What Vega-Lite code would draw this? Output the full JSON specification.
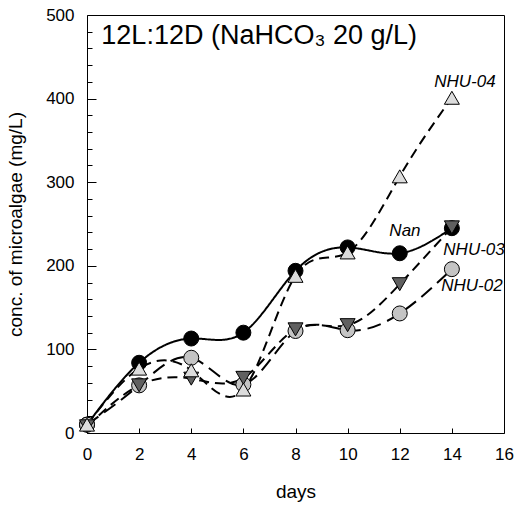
{
  "$schema": "https://vega.github.io/schema/vega-lite/v6.json",
  "width": 417,
  "height": 418,
  "autosize": {"type": "none"},
  "padding": {"left": 87, "top": 15, "right": 14, "bottom": 73},
  "background": "white",
  "config": {
    "view": {"stroke": "black", "strokeWidth": 1},
    "font": "Liberation Sans",
    "axis": {
      "domainColor": "black",
      "tickColor": "black",
      "labelColor": "black",
      "titleColor": "black",
      "labelFont": "Liberation Sans",
      "titleFont": "Liberation Sans",
      "labelFontSize": 17,
      "titleFontSize": 19,
      "titleFontWeight": "normal",
      "grid": false,
      "labelFlush": false,
      "labelOverlap": false
    }
  },
  "datasets": {
    "growth": [
      {"series": "Nan", "day": 0, "conc": 10},
      {"series": "Nan", "day": 2, "conc": 84},
      {"series": "Nan", "day": 4, "conc": 113},
      {"series": "Nan", "day": 6, "conc": 120},
      {"series": "Nan", "day": 8, "conc": 194},
      {"series": "Nan", "day": 10, "conc": 222},
      {"series": "Nan", "day": 12, "conc": 215},
      {"series": "Nan", "day": 14, "conc": 245},
      {"series": "NHU-02", "day": 0, "conc": 10},
      {"series": "NHU-02", "day": 2, "conc": 57},
      {"series": "NHU-02", "day": 4, "conc": 90},
      {"series": "NHU-02", "day": 6, "conc": 58},
      {"series": "NHU-02", "day": 8, "conc": 122},
      {"series": "NHU-02", "day": 10, "conc": 123},
      {"series": "NHU-02", "day": 12, "conc": 143},
      {"series": "NHU-02", "day": 14, "conc": 196},
      {"series": "NHU-03", "day": 0, "conc": 8},
      {"series": "NHU-03", "day": 2, "conc": 57},
      {"series": "NHU-03", "day": 4, "conc": 65},
      {"series": "NHU-03", "day": 6, "conc": 66},
      {"series": "NHU-03", "day": 8, "conc": 124},
      {"series": "NHU-03", "day": 10, "conc": 129},
      {"series": "NHU-03", "day": 12, "conc": 178},
      {"series": "NHU-03", "day": 14, "conc": 246},
      {"series": "NHU-04", "day": 0, "conc": 10},
      {"series": "NHU-04", "day": 2, "conc": 77},
      {"series": "NHU-04", "day": 4, "conc": 75},
      {"series": "NHU-04", "day": 6, "conc": 52},
      {"series": "NHU-04", "day": 8, "conc": 188},
      {"series": "NHU-04", "day": 10, "conc": 216},
      {"series": "NHU-04", "day": 12, "conc": 307},
      {"series": "NHU-04", "day": 14, "conc": 401}
    ],
    "labels": [
      {"label": "NHU-04", "day": 14.5, "conc": 420},
      {"label": "Nan", "day": 12.2, "conc": 242},
      {"label": "NHU-03", "day": 14.85, "conc": 219},
      {"label": "NHU-02", "day": 14.77, "conc": 176}
    ]
  },
  "resolve": {"axis": {"y": "independent"}},
  "layer": [
    {
      "data": {"name": "growth"},
      "mark": {"type": "line", "interpolate": "natural", "strokeWidth": 2, "color": "black"},
      "encoding": {
        "x": {
          "field": "day", "type": "quantitative",
          "scale": {"domain": [0, 16], "nice": false},
          "axis": {
            "title": "days",
            "values": [0, 2, 4, 6, 8, 10, 12, 14, 16],
            "domain": false,
            "offset": -5,
            "tickSize": 5,
            "labelPadding": 13,
            "titlePadding": 20
          }
        },
        "y": {
          "field": "conc", "type": "quantitative",
          "scale": {"domain": [0, 500], "nice": false},
          "axis": {
            "orient": "left",
            "title": "conc. of microalgae (mg/L)",
            "values": [0, 100, 200, 300, 400, 500],
            "domain": false,
            "offset": -9,
            "tickSize": 9,
            "labelPadding": 13,
            "titlePadding": 20
          }
        },
        "detail": {"field": "series"},
        "strokeDash": {
          "field": "series", "type": "nominal",
          "scale": {"domain": ["Nan", "NHU-02", "NHU-03", "NHU-04"], "range": [[1, 0], [14, 7], [10, 6], [10, 6]]},
          "legend": null
        }
      }
    },
    {
      "data": {"name": "growth"},
      "mark": {"type": "point", "filled": true, "size": 225, "stroke": "black", "strokeWidth": 1, "opacity": 1},
      "encoding": {
        "x": {"field": "day", "type": "quantitative"},
        "y": {
          "field": "conc", "type": "quantitative",
          "axis": {
            "orient": "left",
            "title": null,
            "labels": false,
            "domain": false,
            "values": [20, 40, 60, 80, 120, 140, 160, 180, 220, 240, 260, 280, 320, 340, 360, 380, 420, 440, 460, 480],
            "offset": -5,
            "tickSize": 5
          }
        },
        "shape": {
          "field": "series", "type": "nominal",
          "scale": {"domain": ["Nan", "NHU-02", "NHU-03", "NHU-04"], "range": ["circle", "circle", "triangle-down", "triangle-up"]},
          "legend": null
        },
        "fill": {
          "field": "series", "type": "nominal",
          "scale": {"domain": ["Nan", "NHU-02", "NHU-03", "NHU-04"], "range": ["#000000", "#c4c4c4", "#606060", "#dcdcdc"]},
          "legend": null
        }
      }
    },
    {
      "data": {"name": "labels"},
      "mark": {"type": "text", "fontStyle": "italic", "fontSize": 17, "font": "Liberation Sans", "color": "black", "align": "center", "baseline": "middle"},
      "encoding": {
        "x": {"field": "day", "type": "quantitative"},
        "y": {"field": "conc", "type": "quantitative", "axis": null},
        "text": {"field": "label"}
      }
    },
    {
      "data": {"values": [{"title": "12L:12D (NaHCO₃ 20 g/L)"}]},
      "mark": {"type": "text", "fontSize": 27, "font": "Liberation Sans", "color": "black", "align": "left", "baseline": "alphabetic"},
      "encoding": {
        "x": {"datum": 0.55, "type": "quantitative"},
        "y": {"datum": 465, "type": "quantitative", "axis": null},
        "text": {"field": "title"}
      }
    }
  ]
}
